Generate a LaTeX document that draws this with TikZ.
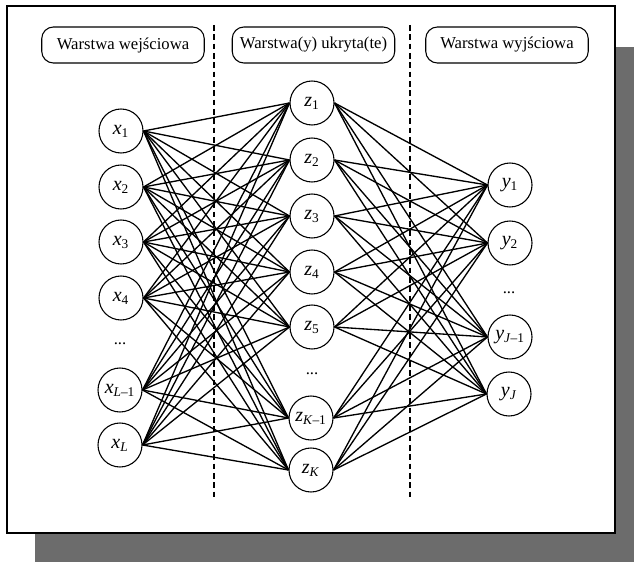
\documentclass[tikz,border=0pt]{standalone}
\usepackage{fontspec}
\setmainfont{Liberation Serif}
\begin{document}
\begin{tikzpicture}[x=0.6pt,y=-0.6pt,
  font=\fontsize{10}{12}\selectfont,
  neuron/.style={circle,draw,line width=0.65pt,minimum size=26.4pt,inner sep=0pt,font=\fontsize{12}{14}\selectfont},
  layerbox/.style={draw,rounded corners=7pt,line width=0.65pt,minimum width=97.5pt,minimum height=21.6pt,inner sep=0pt},
  conn/.style={line width=0.8pt},
  sepline/.style={dash pattern=on 3.4pt off 2.2pt,line width=0.65pt},
  dotsnode/.style={inner sep=0pt}]
\useasboundingbox (0,0) rectangle (634,562);
% page shadow and frame
\fill[gray!85!black] (35,47) rectangle (634,562);
\filldraw[fill=white,draw=black,line width=0.9pt] (7,6) rectangle (615,533);
% headers
\node[layerbox] (h1) at (123,45) {Warstwa wejściowa};
\node[layerbox] (h2) at (313.5,45) {Warstwa(y) ukryta(te)};
\node[layerbox] (h3) at (507,45) {Warstwa wyjściowa};
% separators
\coordinate (d1t) at (214,25); \coordinate (d1b) at (214,497);
\coordinate (d2t) at (410,25); \coordinate (d2b) at (410,497);
\draw[sepline] (d1t) -- (d1b);
\draw[sepline] (d2t) -- (d2b);
% input neurons
\node[neuron] (x1) at (121,131) {\textit{x}\textsubscript{1}};
\node[neuron] (x2) at (121,187) {\textit{x}\textsubscript{2}};
\node[neuron] (x3) at (121,242) {\textit{x}\textsubscript{3}};
\node[neuron] (x4) at (121,298) {\textit{x}\textsubscript{4}};
\node[dotsnode] (xd) at (120,344) {...};
\node[neuron] (x5) at (120,390) {\textit{x}\textsubscript{\textit{L}–1}};
\node[neuron] (x6) at (120,445) {\textit{x}\textsubscript{\textit{L}}};
% hidden neurons
\node[neuron] (z1) at (312,103) {\textit{z}\textsubscript{1}};
\node[neuron] (z2) at (312,160) {\textit{z}\textsubscript{2}};
\node[neuron] (z3) at (312,216) {\textit{z}\textsubscript{3}};
\node[neuron] (z4) at (312,272) {\textit{z}\textsubscript{4}};
\node[neuron] (z5) at (312,327) {\textit{z}\textsubscript{5}};
\node[dotsnode] (zd) at (312,374) {...};
\node[neuron] (z6) at (311,418) {\textit{z}\textsubscript{\textit{K}–1}};
\node[neuron] (z7) at (311,470) {\textit{z}\textsubscript{\textit{K}}};
% output neurons
\node[neuron] (y1) at (510,185) {\textit{y}\textsubscript{1}};
\node[neuron] (y2) at (510,243) {\textit{y}\textsubscript{2}};
\node[dotsnode] (yd) at (509,293) {...};
\node[neuron] (y3) at (510,337) {\textit{y}\textsubscript{\textit{J}–1}};
\node[neuron] (y4) at (509,394) {\textit{y}\textsubscript{\textit{J}}};
% connections
\foreach \i in {1,...,6}
  \foreach \j in {1,...,7}
    \draw[conn] (x\i.east) -- (z\j.west);
\foreach \j in {1,...,7}
  \foreach \k in {1,...,4}
    \draw[conn] (z\j.east) -- (y\k.west);
\end{tikzpicture}
\end{document}
